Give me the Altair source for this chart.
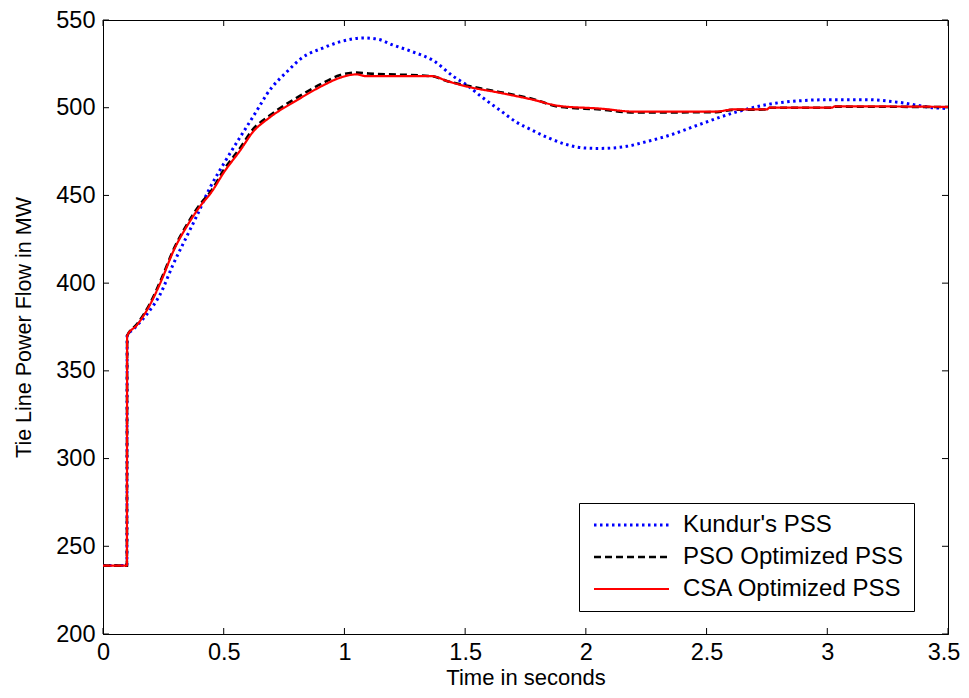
import altair as alt
import pandas as pd

# Kundur's PSS (blue dotted)
k_t = [0, 0.099, 0.1, 0.125, 0.18, 0.236, 0.29, 0.35, 0.39, 0.44, 0.50, 0.64, 0.68, 0.77, 0.82, 0.91,
       0.98, 1.08, 1.14, 1.2, 1.28, 1.37, 1.45, 1.51, 1.57, 1.64, 1.71, 1.78, 1.85, 1.92, 2.0, 2.06,
       2.17, 2.26, 2.34, 2.47, 2.61, 2.75, 2.89, 3.02, 3.16, 3.30, 3.44, 3.5]
k_v = [239, 239, 370, 373.6, 382, 393.4, 410.5, 427.5, 438.8, 453.6, 468, 499, 508, 521.6, 528, 534,
       537.5, 539.8, 539, 535.8, 532, 526.7, 518, 512.6, 506, 499, 492, 487, 482.5, 479, 477, 476.8,
       478, 481, 484, 490.4, 497, 501.8, 504, 504.6, 504.6, 503, 500, 499.5]

# PSO Optimized PSS (black dashed)
p_t = [0, 0.099, 0.1, 0.14, 0.195, 0.245, 0.29, 0.35, 0.40, 0.45, 0.50, 0.57, 0.62, 0.69, 0.80, 0.91,
       0.98, 1.05, 1.10, 1.36, 1.43, 1.51, 1.64, 1.78, 1.89, 2.06, 2.20, 2.54, 2.61, 2.75, 2.76, 3.02,
       3.03, 3.5]
p_v = [239, 239, 370, 376.5, 388.5, 403.5, 418.5, 434, 444.5, 453, 464.5, 477.5, 487.5, 495.5, 505.5, 514,
       518.5, 520, 519.5, 518, 515, 512.5, 509, 505, 500.5, 499, 497.3, 497.5, 498.8, 499, 500, 500,
       500.6, 500.4]

# CSA Optimized PSS (red solid)
c_t = [0, 0.099, 0.1, 0.14, 0.195, 0.245, 0.29, 0.35, 0.40, 0.45, 0.50, 0.57, 0.62, 0.69, 0.80, 0.91,
       0.98, 1.05, 1.09, 1.36, 1.43, 1.51, 1.64, 1.78, 1.89, 2.06, 2.20, 2.54, 2.61, 2.75, 2.76, 3.02,
       3.03, 3.5]
c_v = [239, 239, 370, 376, 387.8, 402.5, 417.8, 433, 443.4, 452, 463, 476, 486, 494.4, 504, 512.6,
       517, 519, 518, 518, 515, 512, 508.6, 504.6, 501, 499.5, 497.8, 497.8, 499, 499, 500, 500,
       500.8, 500.5]

series_names = ["Kundur's PSS", "PSO Optimized PSS", "CSA Optimized PSS"]
series_colors = ["#0000ff", "#000000", "#ff0000"]
series_dashes = [[2.5, 3.5], [7, 4], [1, 0]]
series_widths = [3, 2.2, 3.5]

x_ticks = [0, 0.5, 1, 1.5, 2, 2.5, 3, 3.5]
x_last_label = ["3.5"]
y_ticks = [200, 250, 300, 350, 400, 450, 500, 550]

rows = []
for name, ts, vs in zip(series_names, [k_t, p_t, c_t], [k_v, p_v, c_v]):
    for t, v in zip(ts, vs):
        rows.append({"t": t, "v": v, "series": name})
df = pd.DataFrame(rows)

W, H = 845, 614
FONT = "Liberation Sans"
FS = 23.5
LP = 6

xscale = alt.Scale(domain=[0, 3.5], nice=False, zero=False)
yscale = alt.Scale(domain=[200, 550], nice=False, zero=False)

legend = alt.Legend(
    title=None, orient="none", legendX=476, legendY=483,
    fillColor="white", strokeColor="black", padding=10,
    labelFont=FONT, labelFontSize=24, labelColor="black",
    symbolType="M-0.7,0H6.8", symbolSize=400, rowPadding=8, labelOffset=70,
    labelLimit=400,
)

enc = dict(
    x=alt.X("t:Q", scale=xscale, title="Time in seconds",
            axis=alt.Axis(values=x_ticks[:-1], format="~g", ticks=False, grid=False, domainColor="black",
                          labelFont=FONT, labelFontSize=FS, labelColor="black", labelPadding=LP,
                          titleFont=FONT, titleFontSize=22, titleFontWeight="normal",
                          titleColor="black", titlePadding=4, labelFlush=False)),
    y=alt.Y("v:Q", scale=yscale, title="Tie Line Power Flow in MW",
            axis=alt.Axis(values=y_ticks, ticks=False, grid=False, domainColor="black",
                          labelFont=FONT, labelFontSize=FS, labelColor="black", labelPadding=8,
                          titleFont=FONT, titleFontSize=21.5, titleFontWeight="normal",
                          titleColor="black", titlePadding=20)),
    color=alt.Color("series:N", scale=alt.Scale(domain=series_names, range=series_colors), legend=legend),
    strokeDash=alt.StrokeDash("series:N", scale=alt.Scale(domain=series_names, range=series_dashes), legend=legend),
    strokeWidth=alt.StrokeWidth("series:N", scale=alt.Scale(domain=series_names, range=series_widths), legend=legend),
)

base = alt.Chart(df)
layers = []
for name in series_names:
    layers.append(
        base.transform_filter(alt.datum.series == name)
        .mark_line(interpolate="monotone", strokeCap="butt")
        .encode(**enc)
    )

xt = pd.DataFrame({"t": x_ticks})
yt = pd.DataFrame({"v": y_ticks})
tick_len = 6
xb = alt.Chart(xt).mark_rule(color="black", strokeWidth=1).encode(
    x=alt.X("t:Q", scale=xscale), y=alt.value(H), y2=alt.value(H - tick_len))
xtp = alt.Chart(xt).mark_rule(color="black", strokeWidth=1).encode(
    x=alt.X("t:Q", scale=xscale), y=alt.value(0), y2=alt.value(tick_len))
yl = alt.Chart(yt).mark_rule(color="black", strokeWidth=1).encode(
    y=alt.Y("v:Q", scale=yscale), x=alt.value(0), x2=alt.value(tick_len))
yr = alt.Chart(yt).mark_rule(color="black", strokeWidth=1).encode(
    y=alt.Y("v:Q", scale=yscale), x=alt.value(W), x2=alt.value(W - tick_len))

# last x tick label, nudged slightly so it stays inside the page
last_lab = alt.Chart(pd.DataFrame({"t": [x_ticks[-1]], "lab": x_last_label})).mark_text(
    font=FONT, fontSize=FS, color="black", baseline="top", align="center", dx=-4, clip=False
).encode(x=alt.X("t:Q", scale=xscale), y=alt.value(H + LP + 1), text="lab:N")

chart = alt.layer(xb, xtp, yl, yr, *layers, last_lab).properties(
    width=W, height=H,
    padding={"left": 95, "top": 12, "right": 13, "bottom": 56},
    autosize=alt.AutoSizeParams(type="none"),
    background="white",
).configure_view(stroke="black", strokeWidth=1)

chart.save("out.html", embed_options={"renderer": "svg", "actions": False})
